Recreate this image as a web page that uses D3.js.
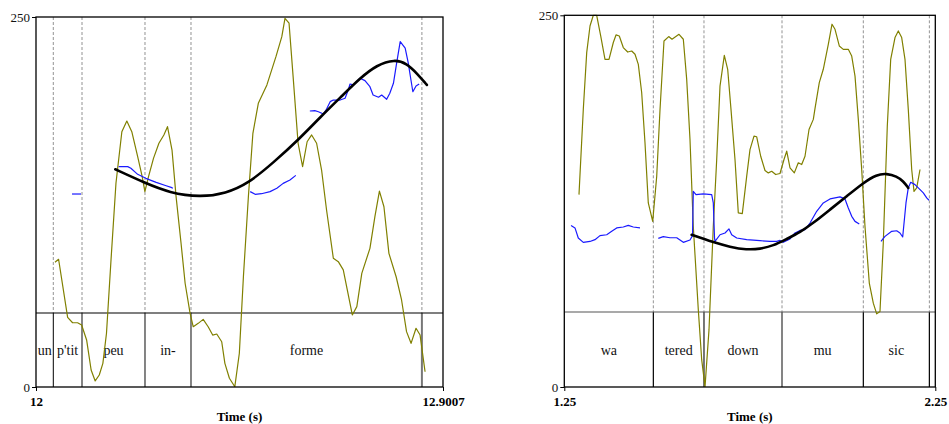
<!DOCTYPE html>
<html><head><meta charset="utf-8">
<script src="https://cdn.jsdelivr.net/npm/d3@7/dist/d3.min.js"></script>
<style>body{margin:0;background:#fff}svg{display:block}svg text{font-family:"Liberation Serif","Times New Roman",Tinos,"DejaVu Serif",serif}</style>
</head><body>
<svg id="chart" width="949" height="424"></svg>
<script>
// ---------- LEFT PANEL DATA ----------
const leftTimeDomain = [12, 12.9007];
const leftTimeTicks = [12, 12.9007];
const leftTimeTickLabels = ["12", "12.9007"];
const yDomain = [0, 250];
const yTicks = [0, 250];
const leftBoundaries = [12.0383, 12.1018, 12.2412, 12.343, 12.854];
const leftWords = ["un", "p'tit", "peu", "in-", "forme", ""];
const leftIntensity = [
  [12.042,84.3],[12.050,86.3],[12.070,47.1],[12.081,43.4],[12.092,43.4],[12.101,41.9],[12.112,31.8],
  [12.122,11.5],[12.131,4.1],[12.140,8.1],[12.148,16.0],[12.156,36.3],[12.166,85.8],[12.177,137.8],
  [12.190,172.5],[12.201,179.7],[12.212,172.5],[12.225,155.6],[12.235,142.1],[12.241,132.0],[12.249,142.1],
  [12.260,154.5],[12.272,164.7],[12.283,170.3],[12.291,175.9],[12.301,160.1],[12.310,128.6],[12.321,97.1],
  [12.330,70.1],[12.341,49.8],[12.348,40.7],[12.359,43.0],[12.370,45.7],[12.381,40.7],[12.391,35.1],
  [12.400,35.8],[12.411,30.6],[12.418,16.0],[12.428,5.9],[12.440,0.2],[12.450,22.8],[12.459,74.5],
  [12.470,128.6],[12.480,171.4],[12.492,191.7],[12.511,204.1],[12.531,223.2],[12.544,236.7],[12.551,249.1],
  [12.560,245.8],[12.569,209.7],[12.580,164.7],[12.590,148.9],[12.600,165.7],[12.610,170.3],[12.621,164.7],
  [12.632,146.6],[12.643,119.6],[12.658,87.0],[12.669,84.7],[12.680,79.1],[12.689,65.5],[12.700,48.7],
  [12.710,54.3],[12.721,76.8],[12.739,93.7],[12.750,115.1],[12.760,132.4],[12.770,121.8],[12.781,90.3],
  [12.797,74.5],[12.809,58.8],[12.820,37.4],[12.830,29.5],[12.841,39.7],[12.850,35.1],[12.861,10.3]
];
const leftPitchA = [[12.0797,130.4],[12.0996,130.4]];
const leftPitchB = [[12.183,148.9],[12.203,148.9],[12.210,147.8],[12.225,143.7],[12.243,141.0],
  [12.266,138.3],[12.288,136.0],[12.299,134.9],[12.303,134.3]];
const leftPitchC = [[12.474,132.0],[12.485,130.2],[12.499,130.6],[12.518,132.0],[12.533,134.3],
  [12.547,137.6],[12.562,139.9],[12.575,143.0]];
const leftPitchD = [[12.606,186.5],[12.617,186.7],[12.625,186.0],[12.636,184.5],[12.642,187.2],
  [12.651,192.8],[12.658,193.9],[12.673,193.9],[12.684,195.1],[12.691,200.7],[12.695,204.7],[12.702,204.1],
  [12.717,208.6],[12.728,207.0],[12.739,202.9],[12.746,197.3],[12.758,195.8],[12.765,197.3],[12.776,194.4],
  [12.783,198.5],[12.791,205.2],[12.798,218.7],[12.806,233.3],[12.817,228.9],[12.824,218.7],[12.828,210.8],
  [12.834,199.5],[12.841,203.4],[12.848,204.7]];
const leftStylized = [[12.1755,147.1],[12.243,137.6],[12.295,131.3],[12.363,128.2],
  [12.420,130.8],[12.470,137.6],[12.525,151.5],[12.584,168.0],[12.628,182.0],[12.680,197.5],
  [12.717,208.6],[12.754,217.6],[12.794,221.4],[12.820,218.7],[12.843,212.0],[12.865,204.1]];

// ---------- RIGHT PANEL DATA ----------
const rightTimeDomain = [1.25, 2.25];
const rightTimeTicks = [1.25, 2.25];
const rightTimeTickLabels = ["1.25", "2.25"];
const rightBoundaries = [1.49, 1.6265, 1.8368, 2.056, 2.234];
const rightWords = ["wa", "tered", "down", "mu", "sic", ""];
const rightIntensity = [
  [1.2896,129.4],[1.3012,186.7],[1.3104,224.9],[1.3193,242.8],[1.3282,250],[1.3373,250],[1.3481,236.1],
  [1.3597,220.4],[1.3705,220.4],[1.3821,231.7],[1.3894,236.8],[1.3982,236.1],[1.4090,228.3],[1.4209,225.3],
  [1.4317,226.0],[1.4406,223.8],[1.4495,217.0],[1.4586,197.9],[1.4675,164.3],[1.4764,123.8],[1.4883,111.4],
  [1.4991,141.7],[1.5080,186.7],[1.5187,232.7],[1.5314,235.7],[1.5403,233.9],[1.5592,237.2],[1.5708,233.9],
  [1.5799,206.9],[1.5888,166.5],[1.5977,108.0],[1.6112,51.9],[1.6204,18.2],[1.6293,0.2],[1.6400,38.4],
  [1.6516,108.0],[1.6608,153.0],[1.6697,202.4],[1.6813,223.1],[1.6904,213.7],[1.6993,186.7],[1.7101,153.0],
  [1.7190,117.1],[1.7298,116.6],[1.7416,141.7],[1.7505,159.7],[1.7613,168.7],[1.7686,168.3],[1.7794,155.2],
  [1.7910,145.6],[1.7999,144.0],[1.8090,145.1],[1.8198,142.9],[1.8314,143.6],[1.8422,153.0],[1.8495,158.6],
  [1.8584,147.4],[1.8700,144.0],[1.8807,150.8],[1.8899,149.6],[1.8988,155.2],[1.9096,173.2],[1.9212,180.0],
  [1.9258,187.4],[1.9373,204.7],[1.9481,213.7],[1.9616,230.5],[1.9716,244.0],[1.9797,240.6],[1.9912,229.4],
  [2.0020,227.1],[2.0155,227.1],[2.0247,222.6],[2.0336,209.1],[2.0425,180.0],[2.0516,146.3],[2.0605,108.0],
  [2.0721,69.9],[2.0829,56.4],[2.0920,49.2],[2.1009,50.8],[2.1098,96.9],[2.1206,175.4],[2.1298,220.4],
  [2.1414,235.0],[2.1503,239.5],[2.1594,235.0],[2.1683,220.4],[2.1772,186.7],[2.1864,146.3],[2.1926,131.6],
  [2.1999,133.9],[2.2088,146.3]
];
const rightPitchA = [[1.2681,108.7],[1.2788,107.0],[1.2877,100.2],[1.3012,97.3],[1.3193,97.9],[1.3327,99.1],
  [1.3462,101.8],[1.3643,102.4],[1.3778,104.7],[1.3912,107.0],[1.4090,107.6],[1.4225,108.7],[1.4360,107.6],[1.4540,107.0]];
const rightPitchB = [[1.5034,100.0],[1.5168,101.1],[1.5349,100.4],[1.5530,100.4],[1.5708,97.3],[1.5888,98.9],
  [1.5956,101.8],[1.5977,131.6],[1.6050,129.4],[1.6247,129.9],[1.6473,129.4],[1.6516,123.8],[1.6549,100.4],
  [1.6562,97.9],[1.6697,102.4],[1.6832,103.6],[1.6939,106.3],[1.7012,102.4],[1.7147,100.2],[1.7416,99.1],
  [1.7775,98.4],[1.8045,97.9],[1.8225,97.9],[1.8314,98.6],[1.8403,97.3],[1.8584,99.6],[1.8718,103.6],
  [1.8853,105.3],[1.8988,105.8],[1.9123,110.3],[1.9303,118.2],[1.9481,123.8],[1.9662,126.5],[1.9932,127.9],
  [2.0066,126.5],[2.0155,120.4],[2.0247,114.8],[2.0336,111.4],[2.0451,109.7]];
const rightPitchC = [[2.1036,97.9],[2.1144,101.3],[2.1325,104.7],[2.1459,105.1],[2.1548,103.6],[2.1621,100.9],
  [2.1710,123.8],[2.1772,133.9],[2.1837,137.7],[2.1953,136.1],[2.2042,133.9],[2.2177,130.6],[2.2268,127.2],[2.2330,125.6]];
const rightStylized = [[1.5934,102.4],[1.6516,97.3],[1.6966,94.2],[1.7416,92.3],[1.7775,92.8],[1.8133,95.0],
  [1.8495,99.6],[1.8853,104.0],[1.9212,110.3],[1.9662,119.3],[2.0112,128.3],[2.0559,137.3],[2.0920,142.9],
  [2.1190,143.6],[2.1459,141.7],[2.1637,138.4],[2.1772,133.9]];

// ---------- DRAWING ----------
const svg = d3.select("#chart");
const SERIF = '"Liberation Serif","Times New Roman",Tinos,"DejaVu Serif",serif';

function drawPanel(o) {
  const x = d3.scaleLinear().domain(o.domain).range([o.left, o.right]);
  const y = d3.scaleLinear().domain(yDomain).range([o.bottom, o.top]);
  const g = svg.append("g");
  const tierY = o.tierY;

  g.selectAll(".bd").data(o.bounds).join("line")
    .attr("x1", d => x(d)).attr("x2", d => x(d))
    .attr("y1", o.top).attr("y2", tierY)
    .attr("stroke", "#777").attr("stroke-width", 0.8).attr("stroke-dasharray", "3,2");
  g.selectAll(".bs").data(o.bounds).join("line")
    .attr("x1", d => x(d)).attr("x2", d => x(d))
    .attr("y1", tierY).attr("y2", o.bottom)
    .attr("stroke", (d, i) => o.boundColors[i]).attr("stroke-width", (d, i) => o.boundWidths[i]);

  g.append("line").attr("x1", o.left).attr("x2", o.right).attr("y1", tierY).attr("y2", tierY)
    .attr("stroke", o.tierColor).attr("stroke-width", 1.2);

  const edges = [o.domain[0], ...o.bounds, o.domain[1]];
  g.selectAll(".w").data(o.words).join("text")
    .attr("x", (d, i) => (x(edges[i]) + x(edges[i + 1])) / 2)
    .attr("y", (tierY + o.bottom) / 2 + 5)
    .attr("text-anchor", "middle").style("font-family", SERIF).attr("font-size", 14).attr("fill", "#111")
    .text(d => d);

  const line = d3.line().x(d => x(d[0])).y(d => y(d[1]));
  const clipId = "clip" + o.id;
  svg.append("clipPath").attr("id", clipId).append("rect")
    .attr("x", o.left).attr("y", o.top - 1).attr("width", o.right - o.left).attr("height", o.bottom - o.top + 1);
  const cg = g.append("g").attr("clip-path", `url(#${clipId})`);

  cg.append("path").datum(o.intensity).attr("d", line)
    .attr("fill", "none").attr("stroke", "#808000").attr("stroke-width", 1.2).attr("stroke-linejoin", "round");
  o.pitch.forEach(seg => {
    cg.append("path").datum(seg).attr("d", line)
      .attr("fill", "none").attr("stroke", "#1a1aff").attr("stroke-width", 1.2).attr("stroke-linejoin", "round");
  });
  const smooth = d3.line().x(d => x(d[0])).y(d => y(d[1])).curve(d3.curveBasis);
  cg.append("path").datum(o.stylized).attr("d", smooth)
    .attr("fill", "none").attr("stroke", "#000").attr("stroke-width", 2.6).attr("stroke-linecap", "round");

  g.append("rect").attr("x", o.left).attr("y", o.top).attr("width", o.right - o.left).attr("height", o.bottom - o.top)
    .attr("fill", "none").attr("stroke", "#000").attr("stroke-width", 1.3);

  const ya = g.append("g").attr("transform", `translate(${o.left},0)`)
    .call(d3.axisLeft(y).tickValues(yTicks).tickSize(4).tickFormat(d3.format("d")));
  ya.select(".domain").remove();
  ya.selectAll("text").style("font-family", SERIF).attr("font-size", 13).attr("fill", "#111").attr("dx", 1);
  ya.selectAll("line").attr("stroke", "#000");

  const xa = g.append("g").attr("transform", `translate(0,${o.bottom})`)
    .call(d3.axisBottom(x).tickValues(o.ticks).tickSize(4).tickFormat((d, i) => o.tickLabels[i]));
  xa.select(".domain").remove();
  xa.selectAll("text").style("font-family", SERIF).attr("font-size", 13).attr("font-weight", "bold").attr("fill", "#000").attr("dy", "0.9em");
  xa.selectAll("line").attr("stroke", "#000");

  g.append("text").attr("x", (o.left + o.right) / 2).attr("y", 421)
    .attr("text-anchor", "middle").style("font-family", SERIF).attr("font-size", 13).attr("font-weight", "bold")
    .text("Time (s)");
}

drawPanel({
  id: "L", domain: leftTimeDomain, ticks: leftTimeTicks, tickLabels: leftTimeTickLabels,
  left: 36, right: 443, top: 17, bottom: 387, tierY: 313, tierColor: "#000",
  bounds: leftBoundaries, words: leftWords,
  boundColors: ["#000", "#666", "#666", "#666", "#777"], boundWidths: [1, 1.6, 1.6, 1.6, 2],
  intensity: leftIntensity, pitch: [leftPitchA, leftPitchB, leftPitchC, leftPitchD], stylized: leftStylized
});
drawPanel({
  id: "R", domain: rightTimeDomain, ticks: rightTimeTicks, tickLabels: rightTimeTickLabels,
  left: 564.3, right: 935.3, top: 15.3, bottom: 387, tierY: 312, tierColor: "#555",
  bounds: rightBoundaries, words: rightWords,
  boundColors: ["#000", "#555", "#666", "#000", "#000"], boundWidths: [1.2, 1.6, 1.6, 1.2, 1.2],
  intensity: rightIntensity, pitch: [rightPitchA, rightPitchB, rightPitchC], stylized: rightStylized
});
</script>
</body></html>
